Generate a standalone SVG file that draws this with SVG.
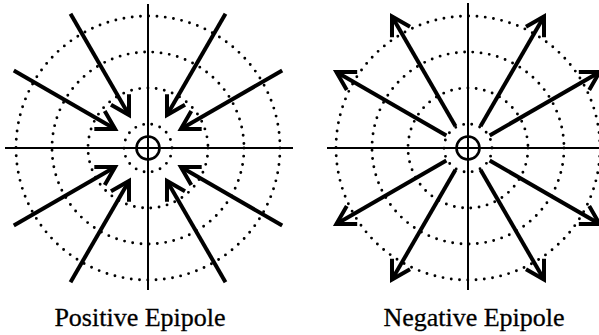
<svg xmlns="http://www.w3.org/2000/svg" width="599" height="335" viewBox="0 0 599 335">
<style>
.dot{fill:none;stroke:#000;stroke-width:2.9;stroke-linecap:round;stroke-dasharray:0 8.3}
.axis{stroke:#000;stroke-width:2;fill:none}
.ep{fill:none;stroke:#000;stroke-width:2.6}
.arr{stroke:#000;stroke-width:4;fill:none;marker-end:url(#head)}
.lbl{font-family:"Liberation Serif","Times New Roman",serif;font-size:26px;fill:#000;text-anchor:middle;stroke:#000;stroke-width:0.3}
</style>
<defs>
<marker id="head" markerUnits="userSpaceOnUse" orient="auto" refX="0" refY="0" markerWidth="40" markerHeight="40" viewBox="-25 -20 40 40" overflow="visible">
<path d="M-18,-10.4 L0,0 L-18,10.4" fill="none" stroke="#000" stroke-width="4" stroke-linejoin="miter"/>
</marker>
</defs>
<rect width="599" height="335" fill="#fff"/>
<g id="positive">
<circle class="dot" cx="148" cy="148" r="24"/>
<circle class="dot" cx="148" cy="148" r="60"/>
<circle class="dot" cx="148" cy="148" r="96"/>
<circle class="dot" cx="148" cy="148" r="132"/>
<line class="axis" x1="5" y1="148" x2="293" y2="148"/>
<line class="axis" x1="148" y1="4" x2="148" y2="290"/>
<circle class="ep" cx="148" cy="148" r="11.5"/>
<g id="positive-arrows">
<line class="arr" x1="70.5" y1="13.8" x2="129" y2="115.1"/>
<line class="arr" x1="13.8" y1="70.5" x2="115.1" y2="129"/>
<line class="arr" x1="225.5" y1="13.8" x2="167" y2="115.1"/>
<line class="arr" x1="282.2" y1="70.5" x2="180.9" y2="129"/>
<line class="arr" x1="13.8" y1="225.5" x2="115.1" y2="167"/>
<line class="arr" x1="70.5" y1="282.2" x2="129" y2="180.9"/>
<line class="arr" x1="225.5" y1="282.2" x2="167" y2="180.9"/>
<line class="arr" x1="282.2" y1="225.5" x2="180.9" y2="167"/>
</g>
<text class="lbl" x="140" y="326">Positive Epipole</text>
</g>
<g id="negative">
<circle class="dot" cx="468" cy="148" r="24"/>
<circle class="dot" cx="468" cy="148" r="60"/>
<circle class="dot" cx="468" cy="148" r="96"/>
<circle class="dot" cx="468" cy="148" r="132"/>
<line class="axis" x1="327" y1="148" x2="599" y2="148"/>
<line class="axis" x1="468" y1="3" x2="468" y2="290"/>
<circle class="ep" cx="468" cy="148" r="11.5"/>
<g id="negative-arrows">
<line class="arr" x1="455.5" y1="126.35" x2="392" y2="16.4"/>
<line class="arr" x1="446.35" y1="135.5" x2="336.4" y2="72"/>
<line class="arr" x1="480.5" y1="126.35" x2="544" y2="16.4"/>
<line class="arr" x1="489.65" y1="135.5" x2="599.6" y2="72"/>
<line class="arr" x1="446.35" y1="160.5" x2="336.4" y2="224"/>
<line class="arr" x1="455.5" y1="169.65" x2="392" y2="279.6"/>
<line class="arr" x1="480.5" y1="169.65" x2="544" y2="279.6"/>
<line class="arr" x1="489.65" y1="160.5" x2="599.6" y2="224"/>
</g>
<text class="lbl" x="474" y="326">Negative Epipole</text>
</g>
</svg>
